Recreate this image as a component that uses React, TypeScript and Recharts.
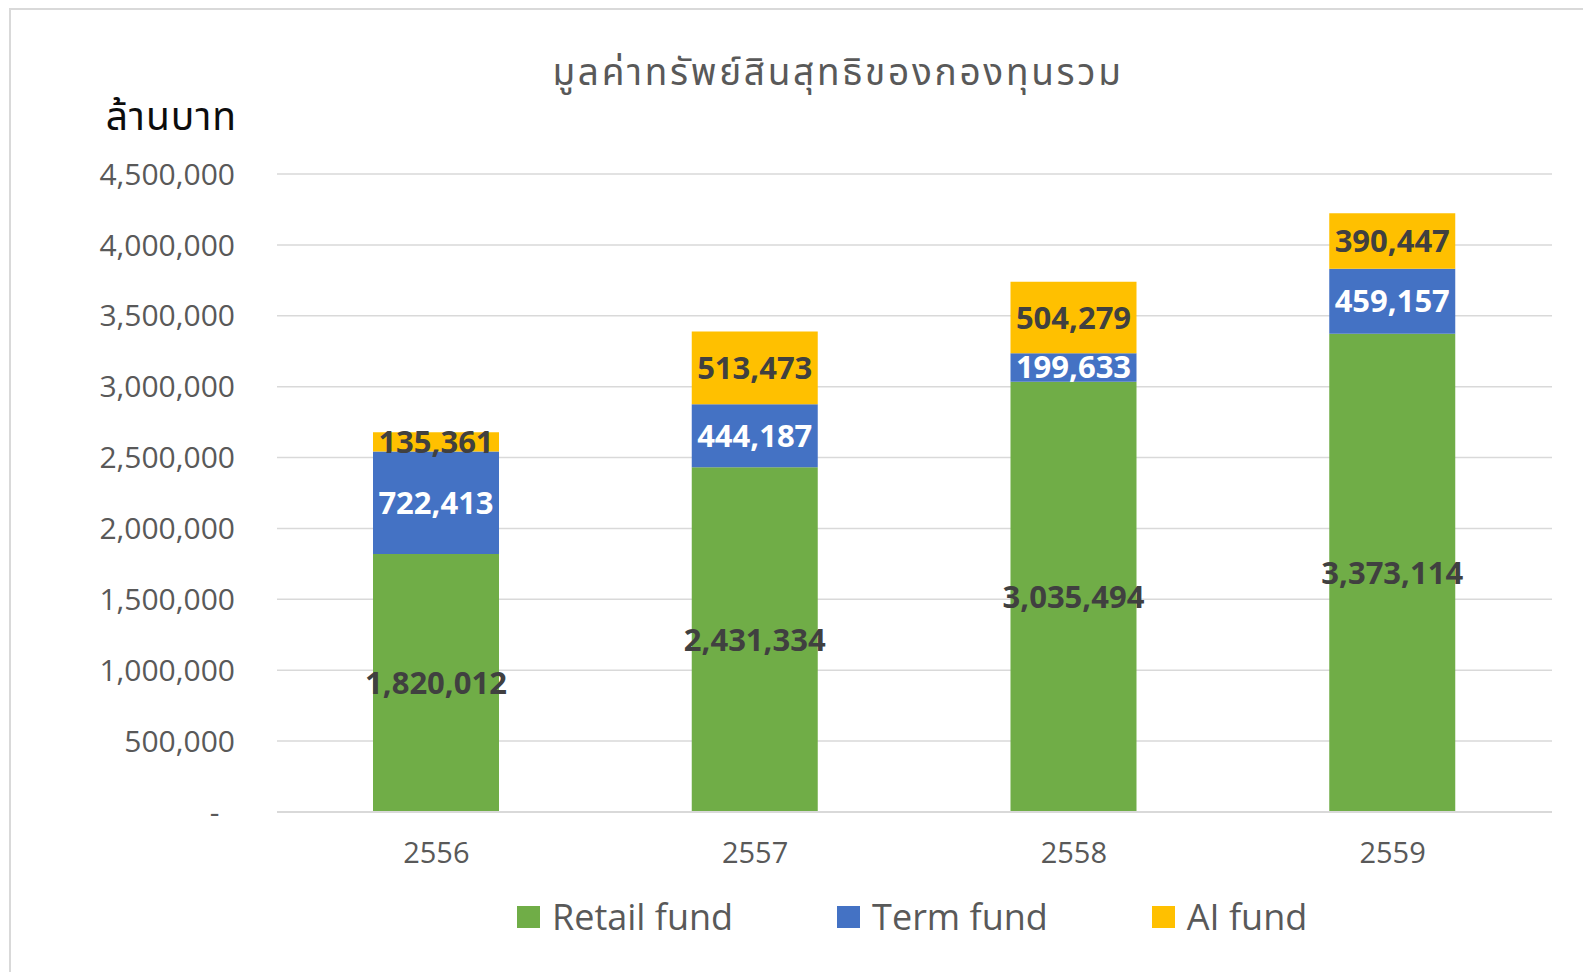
import React from 'react';
import { BarChart, Bar, XAxis, YAxis, CartesianGrid, Legend, LabelList } from 'recharts';

const years = ['2556', '2557', '2558', '2559'];
const retailFund = [1820012, 2431334, 3035494, 3373114];
const termFund = [722413, 444187, 199633, 459157];
const aiFund = [135361, 513473, 504279, 390447];
const yTicks = [0, 500000, 1000000, 1500000, 2000000, 2500000, 3000000, 3500000, 4000000, 4500000];

const seriesOrder = ['retail', 'term', 'ai'];
const seriesNames = { retail: 'Retail fund', term: 'Term fund', ai: 'AI fund' };
const titleText = 'มูลค่าทรัพย์สินสุทธิของกองทุนรวม';
const yUnitText = 'ล้านบาท';

const data = years.map((y, i) => ({
  year: y,
  retail: retailFund[i],
  term: termFund[i],
  ai: aiFund[i],
}));

const FONT = '"Open Sans", "Noto Sans", "Noto Sans Thai", sans-serif';
const THAI_FONT = '"Noto Sans Thai", "Noto Sans Thai UI", "Noto Sans", "Open Sans", sans-serif';

const fmt = (v: number) => (v === 0 ? '-\u00a0\u00a0' : v.toLocaleString('en-US'));
const fmtLabel = (v: any) => Number(v).toLocaleString('en-US');

const LegendContent = (props: any) => {
  const payload = [...(props.payload || [])].sort(
    (a: any, b: any) => seriesOrder.indexOf(a.dataKey) - seriesOrder.indexOf(b.dataKey)
  );
  return (
    <div style={{ display: 'flex', alignItems: 'center', height: 40, paddingLeft: 517, boxSizing: 'border-box' }}>
      {payload.map((p: any, i: number) => (
        <div key={i} style={{ display: 'flex', alignItems: 'center', marginRight: 104 }}>
          <div style={{ width: 23, height: 22, background: p.color, marginRight: 12 }} />
          <span style={{ fontFamily: FONT, fontSize: 36, color: '#595959', lineHeight: '40px' }}>{p.value}</span>
        </div>
      ))}
    </div>
  );
};

export default function App() {
  return (
    <div style={{ position: 'absolute', left: 0, top: 0, width: 1583, height: 972, background: '#fff', overflow: 'hidden' }}>
      <div style={{ position: 'absolute', left: 9, top: 8, width: 1700, height: 1100, border: '2px solid #d9d9d9' }} />
      <div style={{ position: 'absolute', left: 0, width: 1676, top: 49, textAlign: 'center', fontFamily: THAI_FONT, fontSize: 37, letterSpacing: 2.7, color: '#595959', lineHeight: '50px' }}>
        {titleText}
      </div>
      <div style={{ position: 'absolute', right: 1583 - 237, top: 94, fontFamily: THAI_FONT, fontSize: 39, letterSpacing: 1, color: '#0d0d0d', lineHeight: '50px', whiteSpace: 'nowrap' }}>
        {yUnitText}
      </div>
      <BarChart width={1583} height={972} data={data} margin={{ top: 174, right: 31, bottom: 35, left: 0 }}>
        <CartesianGrid vertical={false} stroke="#d9d9d9" strokeWidth={1.5} />
        <XAxis
          dataKey="year"
          height={85}
          tickLine={false}
          tickSize={0}
          tickMargin={30}
          axisLine={{ stroke: '#d9d9d9', strokeWidth: 2 }}
          tick={{ fill: '#595959', fontSize: 29, fontFamily: FONT }}
        />
        <YAxis
          width={277}
          domain={[0, 4500000]}
          ticks={yTicks}
          interval={0}
          tickFormatter={fmt}
          axisLine={false}
          tickLine={false}
          tickSize={0}
          tickMargin={42}
          tick={{ fill: '#595959', fontSize: 30, fontFamily: FONT }}
        />
        <Legend verticalAlign="bottom" content={<LegendContent />} />
        <Bar dataKey="retail" name={seriesNames.retail} stackId="a" fill="#70ad47" barSize={126} isAnimationActive={false}>
          <LabelList dataKey="retail" position="center" formatter={fmtLabel} style={{ fill: '#404040', fontSize: 31, fontWeight: 700, fontFamily: FONT }} />
        </Bar>
        <Bar dataKey="term" name={seriesNames.term} stackId="a" fill="#4472c4" barSize={126} isAnimationActive={false}>
          <LabelList dataKey="term" position="center" formatter={fmtLabel} style={{ fill: '#ffffff', fontSize: 31, fontWeight: 700, fontFamily: FONT }} />
        </Bar>
        <Bar dataKey="ai" name={seriesNames.ai} stackId="a" fill="#ffc000" barSize={126} isAnimationActive={false}>
          <LabelList dataKey="ai" position="center" formatter={fmtLabel} style={{ fill: '#404040', fontSize: 31, fontWeight: 700, fontFamily: FONT }} />
        </Bar>
      </BarChart>
    </div>
  );
}
